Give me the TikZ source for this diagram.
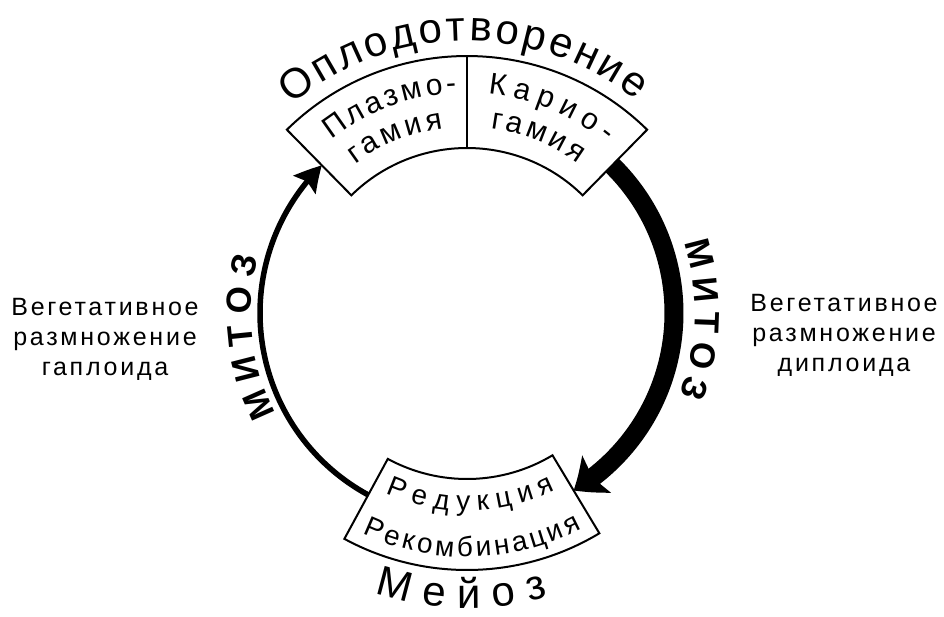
\documentclass[tikz,border=0pt]{standalone}
\usepackage{fontspec}
\setmainfont{Liberation Sans}
\newfontfamily\sidefont[LetterSpace=11]{Liberation Sans}
\usetikzlibrary{arrows.meta,bending,positioning,decorations.text}
\newcommand\titlefont{\fontsize{42}{42}\selectfont}
\newcommand\boxfont{\fontsize{30}{30}\selectfont}
\newcommand\meiofont{\fontsize{28}{28}\selectfont}
\newcommand\mitozfont{\bfseries\fontsize{35}{35}\selectfont}
\tikzset{
  sector/.style={draw, line width=2pt, fill=white},
  cyc/.style={line width=5.5pt},
  cycthick/.style={line width=19pt},
  side/.style={align=center, font=\sidefont\fontsize{25}{30}\selectfont},
  curved/.style={decorate, decoration={text along path, text align=fit to path, text={#1}}},
}
\begin{document}
\begin{tikzpicture}
  \useasboundingbox (-467pt,-303pt) rectangle (477pt,313pt);
  % fertilisation box (top) and meiosis box (bottom)
  \draw[sector] (134.5:257pt) arc[start angle=134.5, end angle=45.5, radius=257pt]
    -- (45.5:165pt) arc[start angle=45.5, end angle=134.5, radius=165pt] -- cycle;
  \draw[line width=2pt] (90:165pt) -- (90:257pt);
  \draw[sector] (-118.5:257pt) arc[start angle=-118.5, end angle=-59, radius=257pt]
    -- (-59:166pt) arc[start angle=-59, end angle=-118.5, radius=166pt] -- cycle;

  \coordinate (fertL) at (134.5:207pt);
  \coordinate (fertR) at (45.5:207pt);
  \coordinate (meioL) at (241.5:207pt);
  \coordinate (meioR) at (-59:207pt);

  % the two halves of the cycle
  \draw[cyc, -{Stealth[length=26pt, width=28pt, inset=4pt, bend]}]
    (meioL) arc[start angle=241.5, end angle=134.5, radius=207pt];
  \draw[cycthick, -{Stealth[length=28pt, width=46pt, inset=5pt, bend]}]
    (fertR) arc[start angle=45.5, end angle=-59, radius=207pt];

  % curved labels
  \path[curved={|\titlefont|Оплодотворение}] (130:272pt) arc[start angle=130, end angle=51.5, radius=272pt];
  \path[curved={|\titlefont|Мейоз}] (-108.2:295pt) arc[start angle=-108.2, end angle=-74, radius=295pt];
  \path[curved={|\boxfont|Плазмо-}] (128:220pt) arc[start angle=128, end angle=92.7, radius=220pt];
  \path[curved={|\boxfont|гамия}] (127:186pt) arc[start angle=127, end angle=97.4, radius=186pt];
  \path[curved={|\boxfont|Карио-}] (84.5:220pt) arc[start angle=84.5, end angle=50.7, radius=220pt];
  \path[curved={|\boxfont|гамия}] (82.7:186pt) arc[start angle=82.7, end angle=53.5, radius=186pt];
  \path[curved={|\meiofont|Редукция}] (-114.3:198pt) arc[start angle=-114.3, end angle=-63.4, radius=198pt];
  \path[curved={|\meiofont|Рекомбинация}] (-115.4:244pt) arc[start angle=-115.4, end angle=-61.9, radius=244pt];
  \path[curved={|\mitozfont|МИТОЗ}] (207.8:216pt) arc[start angle=207.8, end angle=165.1, radius=216pt];
  \path[curved={|\mitozfont|МИТОЗ}] (18.1:228pt) arc[start angle=18.1, end angle=-21.2, radius=228pt];

  % side notes
  \node[side] (haploid) at (-362pt,-26pt) {Вегетативное\\размножение\\гаплоида};
  \node[side] (diploid) at (377pt,-22pt) {Вегетативное\\размножение\\диплоида};
\end{tikzpicture}
\end{document}
